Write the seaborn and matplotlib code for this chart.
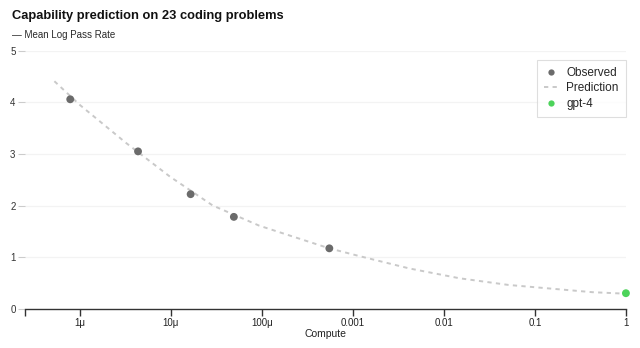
import numpy as np
import pandas as pd
import matplotlib
matplotlib.use("Agg")
import matplotlib.pyplot as plt
import seaborn as sns

# ---- data ----
obs_compute = [10**-6.106, 10**-5.361, 10**-4.783, 10**-4.308, 10**-3.259]
obs_value = [4.06, 3.05, 2.22, 1.78, 1.17]

gpt4_compute = [1.0]
gpt4_value = [0.30]

pred_compute = [10**-6.28, 10**-6.0, 10**-5.49, 10**-5.01, 10**-4.54, 10**-4.03,
                10**-3.26, 10**-2.93, 10**-2.38, 10**-1.83, 10**-1.29,
                10**-0.37, 1.0]
pred_value = [4.41, 3.95, 3.21, 2.56, 2.00, 1.61,
              1.17, 1.02, 0.78, 0.59, 0.46,
              0.32, 0.29]

xtick_values = [1e-6, 1e-5, 1e-4, 1e-3, 1e-2, 1e-1, 1]
xtick_labels = ["1\u03bc", "10\u03bc", "100\u03bc", "0.001", "0.01", "0.1", "1"]
ytick_values = [0, 1, 2, 3, 4, 5]

title = "Capability prediction on 23 coding problems"
subtitle = "\u2014 Mean Log Pass Rate"

sns.set_theme(style="white")
plt.rcParams["font.family"] = ["Liberation Sans", "DejaVu Sans"]

fig = plt.figure(figsize=(6.4, 3.48), dpi=100)
ax = fig.add_axes([0.0395, 0.113, 0.978 - 0.0395, 0.854 - 0.113])

obs_df = pd.DataFrame({"compute": obs_compute, "value": obs_value})
gpt_df = pd.DataFrame({"compute": gpt4_compute, "value": gpt4_value})
pred_df = pd.DataFrame({"compute": pred_compute, "value": pred_value})

gray_dot = "#6b6b6b"
green = "#4cd35a"
line_col = "#c9c9c9"

ax.set_xscale("log")
for y in ytick_values[1:]:
    ax.axhline(y, color="#f3f3f3", lw=0.9, zorder=0)

sns.lineplot(data=pred_df, x="compute", y="value", ax=ax, color=line_col,
             lw=1.4, linestyle=(0, (2.2, 2.2)), zorder=2,
             label="Prediction", legend=False)
sns.scatterplot(data=obs_df, x="compute", y="value", ax=ax, color=gray_dot,
                s=32, edgecolor="none", zorder=3, label="Observed", legend=False)
sns.scatterplot(data=gpt_df, x="compute", y="value", ax=ax, color=green,
                s=32, edgecolor="none", zorder=3, label="gpt-4", legend=False,
                clip_on=False)

ax.set_xlim(10**-6.6, 1)
ax.set_ylim(0, 5)

for s in ["top", "right", "left"]:
    ax.spines[s].set_visible(False)
ax.spines["bottom"].set_color("#333333")
ax.spines["bottom"].set_linewidth(1.0)

ax.set_xticks(xtick_values)
ax.set_xticklabels(xtick_labels)
ax.set_xticks([10**-6.6], minor=True)
ax.tick_params(axis="x", which="both", bottom=True, direction="out", length=5,
               width=1.0, color="#333333", labelsize=7, pad=1.5, labelcolor="#222222")
ax.tick_params(axis="x", which="minor", labelbottom=False)

ax.set_yticks(ytick_values)
ax.tick_params(axis="y", left=True, direction="out", length=5, width=0.8,
               color="#cccccc", labelsize=7, pad=2, labelcolor="#333333")

ax.set_xlabel("Compute", fontsize=7.5, color="#222222", labelpad=1)
ax.set_ylabel("")

fig.text(12 / 640, 1 - 16 / 348, title, fontsize=9.3, fontweight="bold",
         color="#111111", va="center", ha="left")
fig.text(12 / 640, 1 - 35 / 348, subtitle, fontsize=7, color="#2a2a2a",
         va="center", ha="left")

h_obs = plt.Line2D([], [], marker="o", linestyle="none", color=gray_dot,
                   markersize=4.5, markeredgewidth=0)
h_pred = plt.Line2D([], [], linestyle=(0, (2.2, 2.2)), color=line_col, lw=1.4)
h_gpt = plt.Line2D([], [], marker="o", linestyle="none", color=green,
                   markersize=4.5, markeredgewidth=0)
leg = ax.legend([h_obs, h_pred, h_gpt], ["Observed", "Prediction", "gpt-4"],
                loc="upper right", bbox_to_anchor=(1.0, 0.964), borderaxespad=0,
                fontsize=8.5, frameon=True, fancybox=False, handlelength=1.2,
                handletextpad=0.7, borderpad=0.6, labelspacing=0.28)
leg.get_frame().set_edgecolor("#d6d6d6")
leg.get_frame().set_linewidth(0.8)

fig.savefig("out.png", dpi=100, facecolor="white")
